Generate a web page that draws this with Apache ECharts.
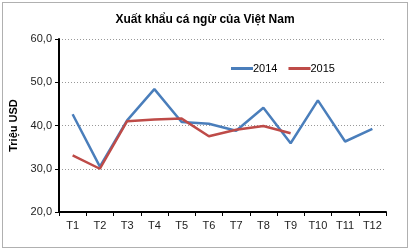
<!DOCTYPE html>
<html><head><meta charset="utf-8">
<script src="https://cdn.jsdelivr.net/npm/echarts@6/dist/echarts.min.js"></script>
<style>
html,body{margin:0;padding:0;background:#fff;}
#wrap{position:absolute;left:2px;top:2px;width:404px;height:244px;border:1px solid #b0b0b0;}
#c{position:absolute;left:-3px;top:-3px;width:410px;height:250px;}
</style></head>
<body><div id="wrap"><div id="c"></div></div>
<script>
const categories = ['T1','T2','T3','T4','T5','T6','T7','T8','T9','T10','T11','T12'];
const s2014 = [42.6, 30.5, 41.2, 48.4, 40.8, 40.4, 38.8, 44.1, 35.9, 45.8, 36.3, 39.2];
const s2015 = [33.1, 30.0, 41.0, 41.4, 41.6, 37.5, 39.0, 39.9, 38.2];
const yTicks = {min: 20, max: 60, interval: 10};

const chart = echarts.init(document.getElementById('c'), null, {renderer:'canvas'});
const font = 'Liberation Sans, Arial, sans-serif';
chart.setOption({
  animation:false,
  textStyle:{fontFamily:font},
  title:{text:'Xuất khẩu cá ngừ của Việt Nam', left:'center', top:9,
    textStyle:{fontFamily:font, fontSize:12, fontWeight:'bold', color:'#000'}},
  legend:{top:58, left:226, itemWidth:22, itemHeight:3, itemGap:11, icon:'rect',
    textStyle:{fontFamily:font, fontSize:11, color:'#000', padding:[0,0,0,-5]},
    data:['2014','2015']},
  grid:{left:59, right:24, top:39, bottom:38, containLabel:false},
  xAxis:{type:'category', data:categories, boundaryGap:true,
    axisLine:{lineStyle:{color:'#000', width:2}},
    axisTick:{show:true, alignWithLabel:false, length:4, lineStyle:{color:'#000', width:1}},
    axisLabel:{color:'#222', fontSize:11, fontFamily:font, margin:8}},
  yAxis:{type:'value', min:yTicks.min, max:yTicks.max, interval:yTicks.interval,
    name:'Triệu USD', nameLocation:'middle', nameGap:34, nameRotate:90,
    nameTextStyle:{fontFamily:font, fontSize:11, fontWeight:'bold', color:'#000'},
    axisLine:{show:true, lineStyle:{color:'#000', width:2}},
    axisTick:{show:true, length:4, lineStyle:{color:'#000'}},
    axisLabel:{color:'#222', fontSize:11, fontFamily:font, margin:7,
      formatter:v=>v.toFixed(1).replace('.',',')},
    splitLine:{show:true, lineStyle:{color:'#999', type:[1,2], width:1}}},
  series:[
    {name:'2014', type:'line', data:s2014, symbol:'none', color:'#4A7EBB',
      lineStyle:{width:2.5, color:'#4A7EBB'}},
    {name:'2015', type:'line', data:s2015, symbol:'none', color:'#BE4B48',
      lineStyle:{width:2.5, color:'#BE4B48'}}
  ]
});
</script></body></html>
